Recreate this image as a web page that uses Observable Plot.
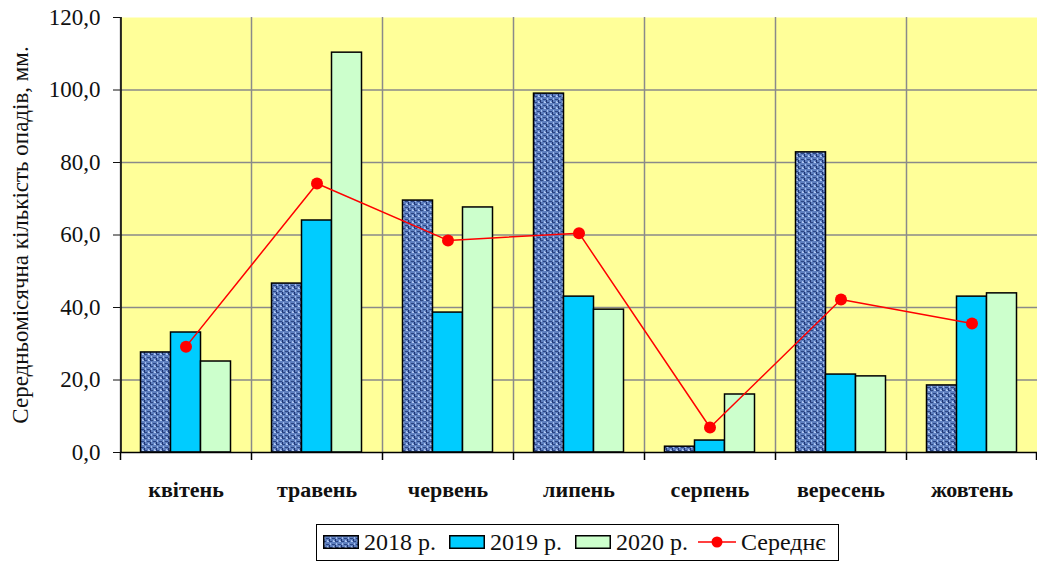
<!DOCTYPE html>
<html><head><meta charset="utf-8">
<script src="https://cdn.jsdelivr.net/npm/d3@7"></script>
<script src="https://cdn.jsdelivr.net/npm/@observablehq/plot@0.6"></script>
<style>
body{margin:0;background:#fff;font-family:'Liberation Serif','Times New Roman',serif;}
#wrap{position:relative;width:1037px;height:563px;}
#legend{position:absolute;left:316px;top:524px;width:523px;height:37px;border:1.5px solid #000;box-sizing:border-box;font-size:24px;color:#111;}
.it{position:absolute;top:0;height:34px;display:flex;align-items:center;gap:5px;white-space:nowrap;}
</style></head>
<body><div id="wrap"><div id="chart"></div><div id="legend"></div></div>
<script>
const months = ["квітень","травень","червень","липень","серпень","вересень","жовтень"];
const y2018 = [27.6, 46.6, 69.5, 99.0, 1.6, 82.8, 18.5];
const y2019 = [33.1, 64.0, 38.6, 43.0, 3.3, 21.5, 43.0];
const y2020 = [25.1, 110.3, 67.6, 39.4, 16.0, 21.0, 43.9];
const avg   = [29.2, 74.2, 58.5, 60.5, 6.9, 42.2, 35.6];
const seriesNames = ["2018 р.","2019 р.","2020 р.","Середнє"];
const yTicks = [0,20,40,60,80,100,120];

const W = 1037, H = 520, mL = 120, mR = 0;
const bw = (W - mL - mR) / months.length;
const barW = 30;
const ins = (bw - barW) / 2;
const rows = (vals) => months.map((m,i) => ({month:m, value:vals[i]}));
const fmt = d => d.toFixed(1).replace(".", ",");

const barOpts = (dx, fill) => ({x:"month", y:"value", dx, insetLeft:ins, insetRight:ins, fill, stroke:"#000", strokeWidth:1.5});

const chart = Plot.plot({
  width: W, height: H,
  marginLeft: mL, marginRight: mR, marginTop: 17, marginBottom: 68,
  style: {fontFamily: "'Liberation Serif', 'Times New Roman', serif", fontSize: "23px", color:"#111", background:"#fff"},
  x: {type:"band", domain: months, padding: 0},
  y: {domain:[0,120]},
  marks: [
    Plot.frame({fill:"#FFFF99", stroke:null}),
    Plot.ruleY(yTicks.filter(d=>d>0 && d<120), {stroke:"#8a8a8a", strokeWidth:1.5}),
    Plot.ruleX(months, {x:d=>d, dx:-bw/2, y1:0, y2:120, stroke:"#8a8a8a", strokeWidth:1.5}),
    Plot.ruleX(months, {x:d=>d, dx:-bw/2, y1:0, y2:0, insetBottom:-8, stroke:"#000", strokeWidth:1.5}),
    Plot.ruleX([months[months.length-1]], {x:d=>d, dx:bw/2-1, y1:0, y2:0, insetBottom:-8, stroke:"#000", strokeWidth:1.5}),
    Plot.barY(rows(y2018), barOpts(-barW, "url(#p2018)")),
    Plot.barY(rows(y2019), barOpts(0, "#00CCFF")),
    Plot.barY(rows(y2020), barOpts(barW, "#CCFFCC")),
    Plot.line(rows(avg), {x:"month", y:"value", stroke:"#FF0000", strokeWidth:1.5}),
    Plot.dot(rows(avg), {x:"month", y:"value", r:6, fill:"#FF0000", stroke:"none"}),
    Plot.ruleY([0], {stroke:"#000", strokeWidth:1.5}),
    Plot.ruleX([months[0]], {x:d=>d, dx:-bw/2+0.5, y1:0, y2:120, stroke:"#000", strokeWidth:1.5}),
    Plot.axisY({ticks: yTicks, tickFormat: fmt, tickSize: 7, tickPadding: 13, fontSize: 23,
      label: "Середньомісячна кількість опадів, мм.", labelAnchor:"center", labelArrow:"none", labelOffset: 109}),
    Plot.axisX({tickSize: 0, tickPadding: 29, fontSize: 22, fontWeight: "bold", label: null})
  ]
});

// pattern for 2018 bars
const ns = "http://www.w3.org/2000/svg";
const defs = document.createElementNS(ns, "defs");
defs.innerHTML = `<pattern id="p2018" patternUnits="userSpaceOnUse" width="6" height="6">
  <rect width="6" height="6" fill="#5e7fbf"/>
  <rect x="0" y="0" width="3" height="1" fill="#2a4584"/>
  <rect x="3" y="3" width="3" height="1" fill="#2a4584"/>
  <rect x="1" y="2" width="1" height="2" fill="#a4bdec"/>
  <rect x="4" y="5" width="1" height="1" fill="#a4bdec"/>
  <rect x="4" y="0" width="2" height="1" fill="#b0c8f2"/>
  <rect x="0" y="4" width="1" height="2" fill="#1f3370"/>
</pattern>`;
chart.insertBefore(defs, chart.firstChild);
document.getElementById("chart").appendChild(chart);

// legend
const leg = document.getElementById("legend");
const fills = ["url(#p2018)","#00CCFF","#CCFFCC"];
const lefts = [6, 132, 258, 381];
seriesNames.forEach((n,i) => {
  const it = document.createElement("div"); it.className = "it"; it.style.left = lefts[i] + "px";
  if (i < 3) {
    const s = document.createElementNS(ns, "svg"); s.setAttribute("width","36"); s.setAttribute("height","14");
    s.innerHTML = `<rect x="0.75" y="0.75" width="34.5" height="12.5" fill="${fills[i]}" stroke="#000" stroke-width="1.5"/>`;
    it.appendChild(s);
  } else {
    const s = document.createElementNS(ns, "svg"); s.setAttribute("width","38"); s.setAttribute("height","14");
    s.innerHTML = `<line x1="0" y1="7" x2="38" y2="7" stroke="#f00" stroke-width="1.5"/><circle cx="19" cy="7" r="5.5" fill="#f00"/>`;
    it.appendChild(s);
  }
  const t = document.createElement("span"); t.textContent = n; it.appendChild(t);
  leg.appendChild(it);
});
</script></body></html>
